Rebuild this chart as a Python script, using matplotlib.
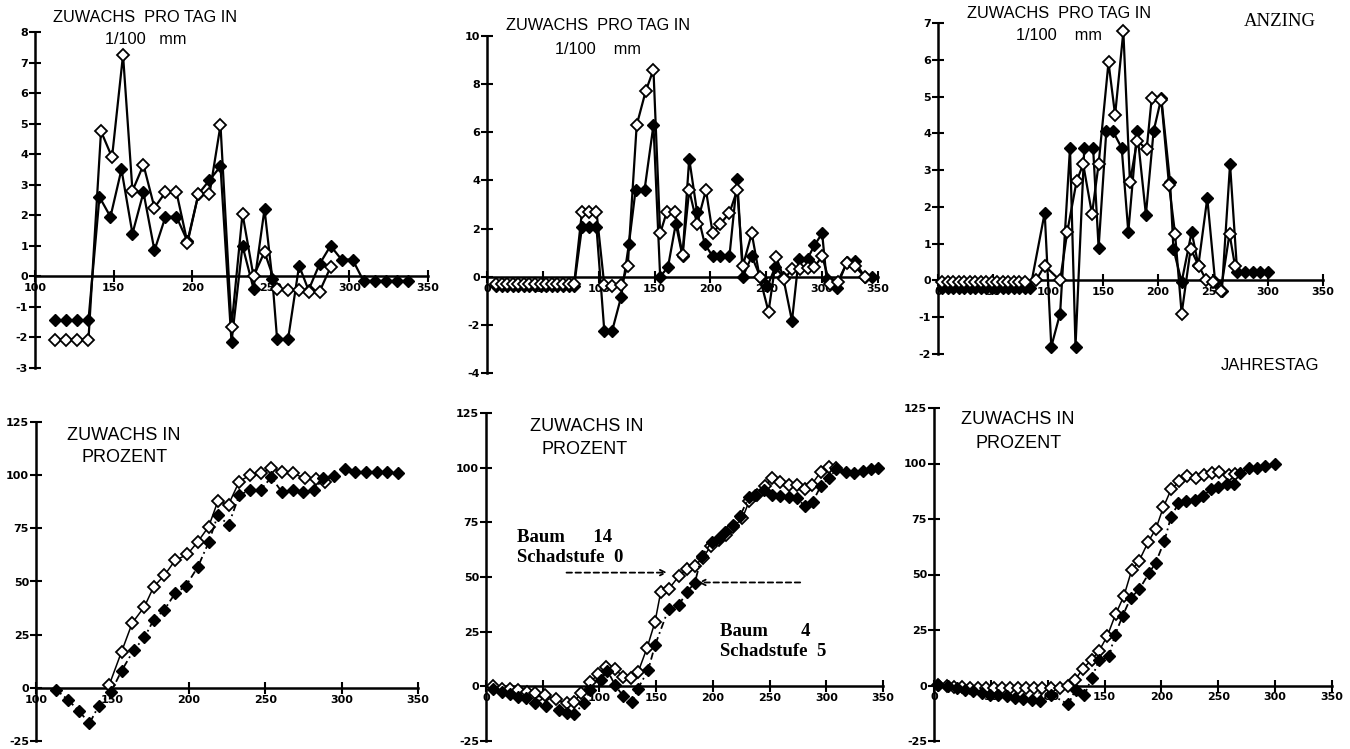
import matplotlib
matplotlib.use("Agg")
import matplotlib.pyplot as plt

plt.rcParams['axes.unicode_minus'] = False

# ---------------- data ----------------
# Panel 1 (top left): Zuwachs pro Tag, 1/100 mm
p1_x_f = [113,120,127,134,141,148,155,162,169,176,183,190,197,204,211,218,225,232,239,246,
          251,254,261,268,274,281,288,295,302,309,316,323,330,337]
p1_y_f = [-1.44,-1.44,-1.44,-1.44,2.6,1.95,3.5,1.4,2.75,0.85,1.95,1.95,1.15,2.7,3.15,3.6,-2.15,1.0,-0.4,2.2,
          -0.1,-2.05,-2.05,0.35,-0.45,0.4,1.0,0.55,0.55,-0.15,-0.15,-0.15,-0.15,-0.15]
p1_x_o = [113,120,127,134,142,149,156,162,169,176,183,190,197,204,211,218,225,232,239,246,
          254,261,268,274,281,288]
p1_y_o = [-2.07,-2.07,-2.07,-2.07,4.75,3.9,7.25,2.8,3.65,2.25,2.75,2.75,1.1,2.7,2.7,4.95,-1.65,2.05,0.0,0.8,
          -0.4,-0.45,-0.45,-0.5,-0.5,0.3]

# Panel 2 (top middle)
p2_x_f = [8,13,18,23,28,33,38,43,48,53,58,63,68,73,78,85,91,98,105,112,120,127,133,141,149,
          155,162,169,175,181,188,195,202,209,217,224,229,237,245,251,258,265,273,279,287,
          293,300,304,313,322,329,338,345]
p2_y_f = [-0.37]*15 + [2.05,2.05,2.05,-2.25,-2.25,-0.85,1.35,3.6,3.6,6.3,
          0.0,0.4,2.2,0.85,4.9,2.7,1.35,0.85,0.85,0.85,4.05,0.0,0.85,-0.05,-0.4,0.4,0.0,-1.84,0.75,0.75,
          1.3,1.8,-0.1,-0.45,0.6,0.65,0.0,0.0]
p2_x_o = [8,13,18,23,28,33,38,43,48,53,58,63,68,73,78,85,91,98,105,112,120,126,134,142,149,
          155,161,168,175,181,188,196,202,209,217,224,229,237,244,252,259,266,273,280,287,
          293,300,307,314,322,329,338]
p2_y_o = [-0.3]*15 + [2.7,2.7,2.7,-0.35,-0.4,-0.35,0.45,6.3,7.7,8.6,
          1.8,2.7,2.7,0.9,3.6,2.2,3.6,1.8,2.2,2.65,3.6,0.45,1.8,0.0,-1.45,0.8,-0.1,0.3,0.3,0.35,
          0.4,0.85,-0.3,-0.2,0.55,0.45,0.0]

# Panel 3 (top right)
p3_x_f = [4,9,14,19,24,29,34,39,44,49,54,59,64,69,74,79,84,97,103,111,120,125,133,141,146,153,159,
          167,173,181,189,196,203,211,214,221.5,230.6,236.7,244.8,252,258,265.5,272,279,286,293,300]
p3_y_f = [-0.2]*17 + [1.84,-1.8,-0.9,3.61,-1.8,3.61,3.61,0.89,4.06,4.06,
          3.6,1.32,4.06,1.79,4.06,4.96,2.67,0.86,-0.04,1.32,0.41,2.24,-0.05,-0.3,3.16,0.22,0.22,0.22,0.22,0.22]
p3_x_o = [4,9,14,19,24,29,34,39,44,49,54,59,64,69,74,79,89,97,111,117.5,126,132,140,146,155,161,
          168.5,174.5,181,189.7,194.3,203,210,215.5,221.5,229.7,237,244,250,257,265,270]
p3_y_o = [-0.05]*16 + [0.0,0.4,0.0,1.32,2.7,3.16,1.81,3.16,5.93,4.5,
          6.77,2.67,3.8,3.57,4.96,4.9,2.6,1.27,-0.9,0.86,0.4,0.0,-0.05,-0.3,1.27,0.4]

# Panel 4 (bottom left): Zuwachs in Prozent
p4_x_f = [113,121,128,135,141,149,156,164,171,177,184,191,198,206,213,219,226,233,240,247,
          254,261,268,275,282,288,295,302,309,316,323,330,337]
p4_y_f = [-0.8,-5.7,-10.8,-16.7,-8.5,-2,8,17.8,23.7,32,36.7,44.4,47.8,57,68.4,81.2,76.6,90.5,93.1,93.1,
          99,92,93.1,92,93.1,98.5,99.8,102.9,101.6,101.6,101.6,101.3,101]
p4_x_o = [148,156,163,171,177,184,191,199,206,213,219,226,233,240,247,254,261,268,276,283,289]
p4_y_o = [1.5,17,30.5,38.2,47.5,52.9,59.9,62.7,68.8,75.8,87.7,86.2,97,100,100.9,103.2,101.6,100.9,98.5,98.2,97]

# Panel 5 (bottom middle)
p5_x_f = [6,14,21,28,35,43,53,64,71,78,86,92,101,107,114,121,129,134,143,149,
          161,170,177,184,190,199,205,211,218,224,232,237,245,252,259,267,274,281,288,295,
          302,309,317,324,332,339,346]
p5_y_f = [-1,-2.5,-3.6,-4.8,-5.5,-7.8,-9.2,-11,-12,-12.5,-7.8,-1.8,2.7,7.2,0.4,-4.5,-7,-1,7.5,18.8,
          35.5,37,43.3,47.1,59.4,66,68,70.5,74,78,86.7,87.7,90,87.4,87,86.5,86,82.5,84.4,91.4,
          95.2,99.3,98,97.5,98.5,99.5,100]
p5_x_o = [6,14,21,28,36,43,52,62,71,78,84,92,99,106,114,121,128,134,142,149,
          154,161,170,177,184,191,198,205,212,218,226,232,239,246,252,259,267,274,281,287,
          295,302,309]
p5_y_o = [0,-1,-1,-1.8,-2.5,-3,-4,-6,-7.8,-7,-3,1.9,5.7,8.7,7.9,4.2,3.9,6.4,17.6,29.5,
          43,44.4,50.4,53.7,55.2,58.6,64,66.8,69,73,76.8,84.7,87.7,91.4,95.2,93.4,92.2,92.2,90.4,92.2,
          98,100.4,100]

# Panel 6 (bottom right)
p6_x_f = [3.5,12,20,27,34,42,49,56,64,71,78,86,93,103,118,124.5,132,138.6,145,154,
          159,166,173,180.5,189.4,195,202.6,208.5,215,222,229.6,236.3,243.7,250,257.5,263.4,269,276.6,284,291,300]
p6_y_f = [0.3,-0.4,-1.2,-1.9,-2.6,-3.4,-4.1,-4.5,-4.8,-5.6,-6,-6.6,-7,-4.1,-8.5,-1.9,-4.5,3.2,11.3,13.1,
          22.6,31.5,39.5,43.3,50.9,55.3,65.1,76.1,82,82.9,83.5,85.4,88.3,89.5,90.8,90.8,95.6,98.1,98,99,99.6]
p6_x_o = [3.5,11,18,25,32,39,46,53,60,67,74,81,88,95,103,111,118,124,131,138.6,
          145.3,152.4,159.7,167,173.8,180.5,188.5,195.2,201.7,208.5,215.8,222.8,230.5,237,244.3,251,259,264.8]
p6_y_o = [0.3,0,-0.5,-0.5,-1,-1,-1.2,-1.2,-1.2,-1.2,-1.2,-1.2,-1.2,-1.2,-1.2,-1.2,-0.4,2.5,7.6,11.6,
          15.7,22.3,32.1,40.3,51.9,56.3,64.8,70.7,80.3,88.3,92,94.2,93.5,94.6,95.6,96,94.9,95.2]

xticks_a = [100, 150, 200, 250, 300, 350]
xticks_b = [0, 50, 100, 150, 200, 250, 300, 350]
yticks_1 = [-3, -2, -1, 0, 1, 2, 3, 4, 5, 6, 7, 8]
yticks_2 = [-4, -2, 0, 2, 4, 6, 8, 10]
yticks_3 = [-2, -1, 0, 1, 2, 3, 4, 5, 6, 7]
yticks_pct = [-25, 0, 25, 50, 75, 100, 125]

# ---------------- figure ----------------
W, H = 1350, 749
fig = plt.figure(figsize=(13.5, 7.49), dpi=100)
fig.patch.set_facecolor('white')

SANS = ['Liberation Sans Narrow', 'Liberation Sans', 'DejaVu Sans']
SERIF = ['Liberation Serif', 'DejaVu Serif']


def rect(x0, y_top, x1, y_bot):
    return [x0 / W, 1 - y_bot / H, (x1 - x0) / W, (y_bot - y_top) / H]


def ftext(x, y, s, **kw):
    kw.setdefault('ha', 'center')
    kw.setdefault('va', 'center')
    fig.text(x / W, 1 - y / H, s, **kw)


def setup(ax, xlim, ylim, xticks, yticks):
    ax.set_xlim(*xlim)
    ax.set_ylim(*ylim)
    ax.patch.set_visible(False)
    for s in ('top', 'right'):
        ax.spines[s].set_visible(False)
    ax.spines['left'].set_position(('data', xlim[0]))
    ax.spines['bottom'].set_position(('data', 0))
    for s in ('left', 'bottom'):
        ax.spines[s].set_linewidth(1.8)
    ax.set_xticks(xticks, labels=[str(t) for t in xticks], fontsize=8, fontweight='bold')
    ax.set_yticks(yticks, labels=[str(t) for t in yticks], fontsize=8, fontweight='bold')
    ax.tick_params(direction='inout', length=8, width=1.5, pad=1)


def daily(ax, xf, yf, xo, yo):
    ax.plot(xf, yf, '-', color='black', lw=1.6, marker='D', ms=6.5,
            mfc='black', mec='black', clip_on=False, zorder=3)
    ax.plot(xo, yo, '-', color='black', lw=1.6, marker='D', ms=6.5,
            mfc='white', mec='black', mew=1.3, clip_on=False, zorder=4)


def cumul(ax, xf, yf, xo, yo):
    ax.plot(xo, yo, '-', color='black', lw=1.1, marker='D', ms=6.5,
            mfc='white', mec='black', mew=1.3, clip_on=False, zorder=3)
    ax.plot(xf, yf, color='black', lw=1.3, dashes=(4, 2, 1, 2), marker='D', ms=6.5,
            mfc='black', mec='black', clip_on=False, zorder=4)


# Top left
ax1 = fig.add_axes(rect(35, 32, 428, 368))
setup(ax1, (100, 350), (-3, 8), xticks_a, yticks_1)
daily(ax1, p1_x_f, p1_y_f, p1_x_o, p1_y_o)

# Top middle
ax2 = fig.add_axes(rect(487, 36, 878, 373))
setup(ax2, (0, 350), (-4, 10), xticks_b, yticks_2)
daily(ax2, p2_x_f, p2_y_f, p2_x_o, p2_y_o)

# Top right
ax3 = fig.add_axes(rect(938, 23, 1323, 354))
setup(ax3, (0, 350), (-2, 7), xticks_b, yticks_3)
daily(ax3, p3_x_f, p3_y_f, p3_x_o, p3_y_o)

# Bottom left
ax4 = fig.add_axes(rect(36, 422, 418, 741))
setup(ax4, (100, 350), (-25, 125), xticks_a, yticks_pct)
cumul(ax4, p4_x_f, p4_y_f, p4_x_o, p4_y_o)

# Bottom middle
ax5 = fig.add_axes(rect(486, 413, 883, 741))
setup(ax5, (0, 350), (-25, 125), xticks_b, yticks_pct)
cumul(ax5, p5_x_f, p5_y_f, p5_x_o, p5_y_o)

# Bottom right
ax6 = fig.add_axes(rect(934, 408, 1332, 741))
setup(ax6, (0, 350), (-25, 125), xticks_b, yticks_pct)
cumul(ax6, p6_x_f, p6_y_f, p6_x_o, p6_y_o)

# ---------------- texts ----------------
tkw = dict(fontsize=11.8, family=SANS)
ftext(145, 17, 'ZUWACHS  PRO TAG IN', **tkw)
ftext(146, 39, '1/100   mm', **tkw)
ftext(598, 25, 'ZUWACHS  PRO TAG IN', **tkw)
ftext(598, 49, '1/100    mm', **tkw)
ftext(1059, 13, 'ZUWACHS  PRO TAG IN', **tkw)
ftext(1059, 35, '1/100    mm', **tkw)
ftext(1280, 22, 'ANZING', fontsize=13.5, family=SERIF)
ftext(1270, 365, 'JAHRESTAG', fontsize=12, family=SANS)

pkw = dict(fontsize=13, family=SANS)
ftext(124, 435, 'ZUWACHS IN', **pkw)
ftext(125, 458, 'PROZENT', **pkw)
ftext(587, 427, 'ZUWACHS IN', **pkw)
ftext(585, 449, 'PROZENT', **pkw)
ftext(1018, 420, 'ZUWACHS IN', **pkw)
ftext(1019, 443, 'PROZENT', **pkw)

bkw = dict(fontsize=13.5, family=SERIF, fontweight='bold', ha='left')
ftext(517, 537, 'Baum      14', **bkw)
ftext(517, 557, 'Schadstufe  0', **bkw)
ftext(720, 632, 'Baum       4', **bkw)
ftext(720, 652, 'Schadstufe  5', **bkw)

# dashed pointer arrows (panel 5, data coordinates)
ax5.annotate('', xy=(160, 52), xytext=(71, 52),
             arrowprops=dict(arrowstyle='->', linestyle=(0, (3, 2)), lw=1.3, color='black',
                             shrinkA=0, shrinkB=0))
ax5.annotate('', xy=(187, 47.5), xytext=(277, 47.5),
             arrowprops=dict(arrowstyle='->', linestyle=(0, (3, 2)), lw=1.3, color='black',
                             shrinkA=0, shrinkB=0))

fig.savefig('out.png', dpi=100, facecolor='white')
